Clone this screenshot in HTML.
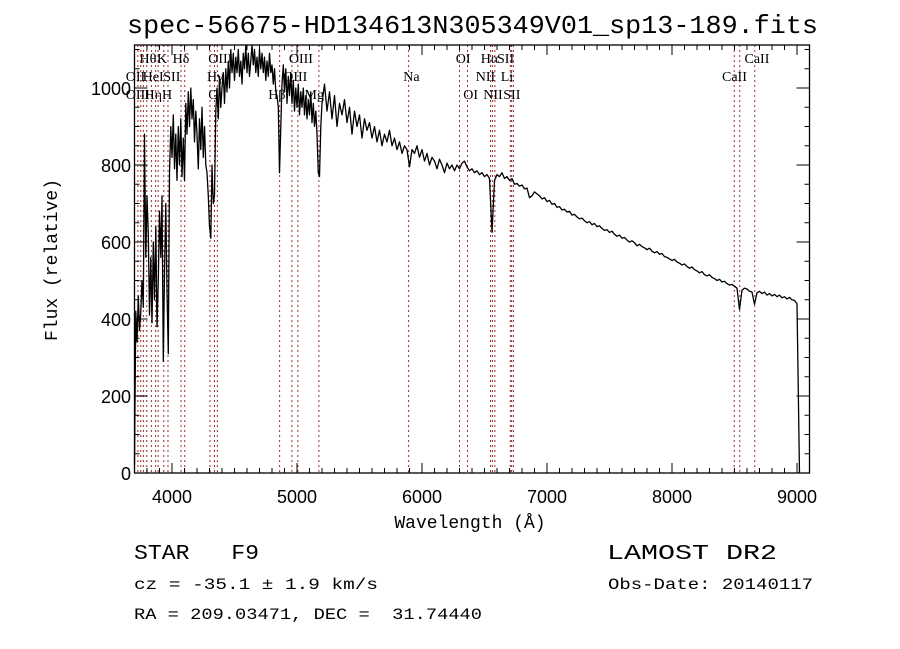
<!DOCTYPE html>
<html><head><meta charset="utf-8"><style>
html,body{margin:0;padding:0;background:#fff;}
svg{display:block;}
text{font-family:"Liberation Mono",monospace;fill:#000;}
.tk{font-family:"Liberation Sans",sans-serif;font-size:18px;}
.ln{font-family:"Liberation Serif",serif;font-size:14px;}
</style></head><body>
<svg id="chart" width="900" height="649" viewBox="0 0 900 649" xmlns="http://www.w3.org/2000/svg">
<rect width="900" height="649" fill="#fff"/>
<text x="127" y="33" font-size="26" textLength="691" lengthAdjust="spacingAndGlyphs">spec-56675-HD134613N305349V01_sp13-189.fits</text>
<g id="lines"></g>
<g id="labels"></g>
<g id="ticks"></g>
<path id="spec" fill="none" stroke="#000" stroke-width="1.3" stroke-linejoin="round"/>
<rect x="134.5" y="45" width="675" height="428" fill="none" stroke="#000" stroke-width="1.3"/>
<text transform="translate(57,260) rotate(-90)" text-anchor="middle" font-size="18">Flux (relative)</text>
<text x="470" y="528" text-anchor="middle" font-size="18">Wavelength (Å)</text>
<text x="134" y="559" font-size="21" xml:space="preserve" textLength="125" lengthAdjust="spacingAndGlyphs">STAR   F9</text>
<text x="607" y="559" font-size="21" textLength="170" lengthAdjust="spacingAndGlyphs">LAMOST DR2</text>
<text x="134" y="589" font-size="16" textLength="244" lengthAdjust="spacingAndGlyphs">cz = -35.1 ± 1.9 km/s</text>
<text x="608" y="589" font-size="16" textLength="205" lengthAdjust="spacingAndGlyphs">Obs-Date: 20140117</text>
<text x="134" y="619" font-size="16" xml:space="preserve" textLength="348" lengthAdjust="spacingAndGlyphs">RA = 209.03471, DEC =  31.74440</text>
</svg>
<script>
const blueStart = 3700, blueStep = 10;
const blueFlux = [20,420,340,460,370,420,500,430,880,560,720,620,410,560,390,600,450,640,380,500,680,560,720,290,520,700,470,310,780,900,
820,930,790,880,760,900,800,920,770,870,760,960,880,990,900,1000,920,970,860,940,880,790,920,840,950,820,900,800,780,720,
640,610,800,700,720,940,1000,920,1030,950,1000,1040,960,1050,990,1070,1000,1100,1040,1090,1020,1080,1040,1100,1030,1070,1010,1090,1050,1110,
1040,1090,1030,1070,1110,1060,1100,1040,1080,1030,1100,1050,1090,1040,1080,1020,1070,1030,1090,1040,1060,1010,1050,990,980,950,780,900,1010,1060,
990,1050,960,1030,980,1040,960,1020,940,1000,950,1010,930,990,950,1000,930,980,920,970,930,990,910,960,900,940,880,780,770,900,960];
const redStart = 5220, redStep = 20;
const redFlux = [1010,940,990,920,980,900,960,930,970,910,950,880,940,900,930,870,920,890,
910,870,900,860,890,850,880,860,890,850,870,840,860,830,850,840,795,840,830,850,820,840,810,830,800,820,810,790,815,800,780,805,790,800,785,800,790,805,810,795,785,790,780,785,775,780,770,775,765,625,760,775,770,780,765,770,760,765,750,752,745,748,738,740,715,720,730,725,720,712,715,705,708,698,700,690,692,683,685,678,680,670,672,665,660,662,655,650,653,645,648,640,642,635,630,632,625,628,620,615,618,610,612,605,600,603,598,590,594,588,585,580,584,576,572,575,568,570,562,560,556,552,555,548,545,540,543,536,532,535,528,525,520,523,515,512,515,508,505,500,503,496,498,492,488,490,485,480,425,475,480,478,472,470,438,468,472,466,470,462,466,460,464,458,462,455,458,452,456,450,448,440,0];
const lineWaves = [3727,3750,3771,3798,3835,3869,3889,3934,3968,4072,4102,4304,4340,4363,4861,4959,5007,5175,5893,6300,6364,6548,6563,6583,6707,6717,6731,8498,8542,8662];
const labelText = ["Hθ","K","Hδ","OIII","OIII","OI","Hα","SII","CaII","OII","HeI","SII","Hγ","OIII","Na","NII","Li","CaII","OIII","Hη","H","G","Hβ","Mg","OI","NII","SII"];
const labelWave = [3740,3880,4005,4290,4935,6270,6470,6600,8580,3630,3765,3930,4280,4890,5850,6430,6630,8400,3630,3780,3920,4290,4770,5060,6330,6490,6650];
const labelRow = [0,0,0,0,0,0,0,0,0,1,1,1,1,1,1,1,1,1,2,2,2,2,2,2,2,2,2];
const yTickVals = [0,200,400,600,800,1000];
const xTickVals = [4000,5000,6000,7000,8000,9000];

const X0=134.5, XMIN=3700, XS=0.125, Y0=473, YS=0.385;
const xs = w => X0 + (w - XMIN) * XS;
const ys = f => Y0 - f * YS;
const NS="http://www.w3.org/2000/svg";
function mk(tag, attrs, parent){const e=document.createElementNS(NS,tag);for(const k in attrs)e.setAttribute(k,attrs[k]);parent.appendChild(e);return e;}

const pts=[];
blueFlux.forEach((f,i)=>pts.push([xs(blueStart+i*blueStep),ys(f)]));
redFlux.forEach((f,i)=>pts.push([xs(redStart+i*redStep),ys(f)]));
let d="";
pts.forEach((p,i)=>{d+=(i?"L":"M")+p[0].toFixed(1)+","+Math.max(45,Math.min(Y0,p[1])).toFixed(1);});
document.getElementById('spec').setAttribute('d',d);

const gl=document.getElementById('lines');
lineWaves.forEach(w=>{
  const l=mk('line',{x1:xs(w),x2:xs(w),y1:45,y2:473,stroke:'#9b2d2d','stroke-width':1,'stroke-dasharray':'2,3'},gl);
  
  
});
const glab=document.getElementById('labels');
labelText.forEach((t,i)=>{
  const e=mk('text',{x:xs(labelWave[i]),y:63+labelRow[i]*18,class:'ln'},glab);
  e.textContent=t;
  
  
});
const gt=document.getElementById('ticks');
for(let w=3700;w<=9100;w+=100){
  const major=w%1000===0, L=major?10:5;
  mk('line',{x1:xs(w),x2:xs(w),y1:473,y2:473-L,stroke:'#000'},gt);
  mk('line',{x1:xs(w),x2:xs(w),y1:45,y2:45+L,stroke:'#000'},gt);
}
for(let f=0;f<=1100;f+=50){
  const major=f%200===0, L=major?13:5;
  mk('line',{x1:134.5,x2:134.5+L,y1:ys(f),y2:ys(f),stroke:'#000'},gt);
  mk('line',{x1:809.5,x2:809.5-L,y1:ys(f),y2:ys(f),stroke:'#000'},gt);
}
xTickVals.forEach(v=>{
  const e=mk('text',{x:xs(v),y:503,'text-anchor':'middle',class:'tk'},gt);
  e.textContent=v;
  
  
});
yTickVals.forEach(v=>{
  const e=mk('text',{x:131,y:ys(v)+7,'text-anchor':'end',class:'tk'},gt);
  e.textContent=v;
  
  
});
</script>
</body></html>
